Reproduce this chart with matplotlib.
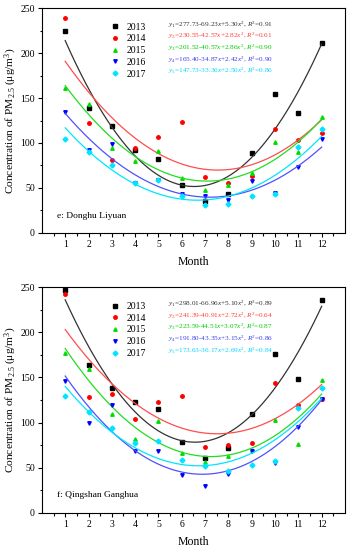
import numpy as np
import matplotlib
matplotlib.use('Agg')
import matplotlib.pyplot as plt

plt.rcParams['font.family'] = ['Liberation Serif', 'DejaVu Serif']
plt.rcParams['mathtext.fontset'] = 'custom'
plt.rcParams['mathtext.rm'] = 'Liberation Serif'
plt.rcParams['mathtext.it'] = 'Liberation Serif:italic'

months = list(range(1, 13))
years = ['2013', '2014', '2015', '2016', '2017']

# e: Donghu Liyuan
donghu_2013 = [225, 138.5, 118.5, 92, 82, 53, 35, 43, 89, 154, 133, 211]
donghu_2014 = [239, 122, 81.5, 94, 107, 123, 62, 55.5, 63, 116, 103, 111.5]
donghu_2015 = [161, 143, 94, 80, 91.5, 61, 48, 53, 67, 101.5, 90, 129]
donghu_2016 = [134, 92, 99, 56, 59, 43, 41.5, 37, 58, 44, 73, 104]
donghu_2017 = [105, 90, 76, 56, 59, 41.5, 31, 32, 41, 43, 96, 116]
donghu_fit = [(277.73, -69.23, 5.30, 0.91), (230.55, -42.57, 2.82, 0.61),
              (201.52, -40.57, 2.86, 0.90), (165.40, -34.87, 2.42, 0.90),
              (147.73, -33.36, 2.50, 0.86)]

# f: Qingshan Ganghua
qingshan_2013 = [247, 164, 138, 123, 115.5, 78, 61, 72, 110, 176, 148, 236]
qingshan_2014 = [243, 128, 131.5, 103.5, 123, 129, 73, 75, 77, 144, 120, 126]
qingshan_2015 = [177, 159, 110, 82, 102, 66, 56.5, 63, 70, 102.5, 76, 147.5]
qingshan_2016 = [146, 99, 120, 69, 68, 41.5, 30, 42.5, 68, 55, 95, 126]
qingshan_2017 = [129, 111.5, 94, 77, 80, 59, 52, 46, 53, 57, 116.5, 138]
qingshan_fit = [(298.01, -66.96, 5.10, 0.89), (241.39, -40.91, 2.72, 0.64),
                (223.59, -44.51, 3.07, 0.87), (191.80, -43.35, 3.15, 0.86),
                (173.63, -36.17, 2.69, 0.84)]

point_colors = ['#000000', '#ff0000', '#00dd00', '#0000ff', '#00e5ff']
line_colors = ['#333333', '#ff4d4d', '#22dd22', '#5050ff', '#00e5ff']
text_colors = ['#333333', '#ff4040', '#00cc00', '#4040ee', '#00d5ff']
markers = ['s', 'o', '^', 'v', 'D']


def draw(ax, series, fits, site):
    xs = np.linspace(1, 12, 200)
    handles = []
    for i, vals in enumerate(series):
        h, = ax.plot(months, vals, ls='none', marker=markers[i], ms=2.5,
                     color=point_colors[i], label=years[i])
        handles.append(h)
        a, b, c, r2 = fits[i]
        ax.plot(xs, a + b * xs + c * xs ** 2, color=line_colors[i], lw=0.9)
        eq = ('$y_%d$=%.2f%.2f$x$+%.2f$x^2$, $R^2$=%.2f'
              % (i + 1, a, b, c, r2))
        ax.text(0.417, 0.927 - i * 0.052, eq, transform=ax.transAxes,
                fontsize=5.2, color=text_colors[i], va='center')
    ax.legend(handles=handles, loc='upper left', bbox_to_anchor=(0.2, 0.965),
              frameon=False, fontsize=7, handletextpad=0.6, handlelength=1.2,
              labelspacing=0.28, borderpad=0.2)
    ax.text(0.05, 0.077, site, transform=ax.transAxes, fontsize=6.8,
            va='center')
    ax.set_xlim(0, 13)
    ax.set_ylim(0, 250)
    ax.set_xticks(months)
    ax.set_xticks(np.arange(0.5, 13, 1), minor=True)
    ax.set_yticks(range(0, 251, 50))
    ax.set_yticks(range(25, 250, 50), minor=True)
    ax.tick_params(which='both', direction='out', labelsize=7, width=0.8,
                   pad=2)
    ax.tick_params(which='major', length=3)
    ax.tick_params(which='minor', length=1.8)
    for s in ax.spines.values():
        s.set_linewidth(0.8)
    ax.set_xlabel('Month', fontsize=8.5, labelpad=5)
    ax.set_ylabel('Concentration of PM$_{2.5}$ (\u03bcg/m$^3$)', fontsize=8.2,
                  labelpad=1)


fig = plt.figure(figsize=(3.52, 5.5), dpi=100)
ax1 = fig.add_axes([0.119, 0.5764, 0.861, 0.409])
ax2 = fig.add_axes([0.119, 0.0678, 0.861, 0.4098])

draw(ax1, [donghu_2013, donghu_2014, donghu_2015, donghu_2016, donghu_2017],
     donghu_fit, 'e: Donghu Liyuan')
draw(ax2, [qingshan_2013, qingshan_2014, qingshan_2015, qingshan_2016,
           qingshan_2017], qingshan_fit, 'f: Qingshan Ganghua')

fig.savefig('out.png', dpi=100)
